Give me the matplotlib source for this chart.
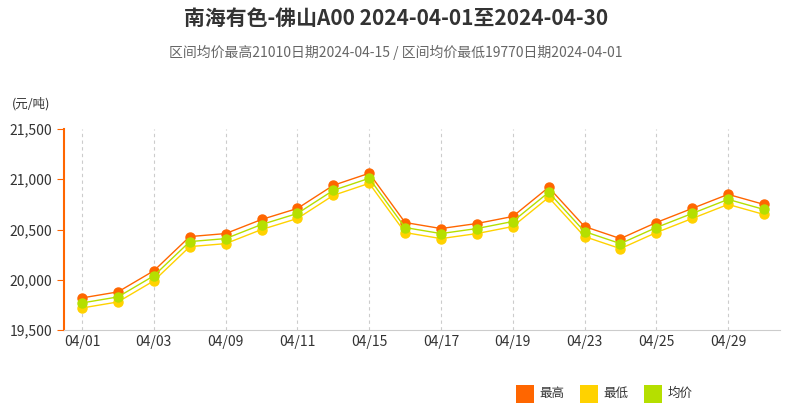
import matplotlib.pyplot as plt

plt.rcParams['font.family'] = ['Noto Sans CJK SC', 'DejaVu Sans']

dates = ["04/01", "04/02", "04/03", "04/08", "04/09", "04/10", "04/11", "04/12", "04/15", "04/16",
         "04/17", "04/18", "04/19", "04/22", "04/23", "04/24", "04/25", "04/26", "04/29", "04/30"]
avg = [19770, 19830, 20040, 20380, 20410, 20550, 20660, 20890, 21010, 20520,
       20460, 20510, 20580, 20870, 20480, 20360, 20520, 20660, 20800, 20700]
high = [v + 50 for v in avg]
low = [v - 50 for v in avg]

fig = plt.figure(figsize=(7.92, 4.07), dpi=100)
ax = fig.add_axes([0.081, 0.189, 0.904, 0.494])
x = list(range(len(dates)))

series = [("最高", high, "#FF6600"), ("最低", low, "#FFD200"), ("均价", avg, "#B5DF00")]
for name, vals, c in series:
    ax.plot(x, vals, color=c, lw=1, marker="o", ms=6.5, zorder=3)

ax.set_ylim(19500, 21500)
ax.set_yticks([19500, 20000, 20500, 21000, 21500])
ax.set_yticklabels(["19,500", "20,000", "20,500", "21,000", "21,500"])
ax.set_xlim(-0.5, len(dates) - 0.55)
ax.set_xticks(x[::2])
ax.set_xticklabels(dates[::2])
ax.tick_params(labelsize=10, colors="#333333", length=0)
ax.tick_params(axis="y", length=5, color="#FF6600", direction="out")
ax.grid(axis="x", ls=(0, (3, 3)), color="#cccccc", lw=0.8)
for s in ["top", "right"]:
    ax.spines[s].set_visible(False)
ax.spines["left"].set_color("#FF6600")
ax.spines["left"].set_linewidth(1.5)
ax.spines["bottom"].set_color("#cccccc")

fig.text(0.5, 0.955, "南海有色-佛山A00 2024-04-01至2024-04-30", ha="center", va="center",
         fontsize=15, fontweight="bold", color="#333333")
fig.text(0.5, 0.872, "区间均价最高21010日期2024-04-15 / 区间均价最低19770日期2024-04-01",
         ha="center", va="center", fontsize=10, color="#666666")
fig.text(0.015, 0.745, "(元/吨)", fontsize=9, color="#333333", va="center")

for k, (name, vals, c) in enumerate(series):
    xx = 0.651 + k * 0.081
    fig.patches.append(plt.Rectangle((xx, 0.01), 0.023, 0.045, facecolor=c,
                                     transform=fig.transFigure))
    fig.text(xx + 0.03, 0.033, name, fontsize=9, va="center", color="#333333")

fig.savefig("out.png", dpi=100, facecolor="white")
